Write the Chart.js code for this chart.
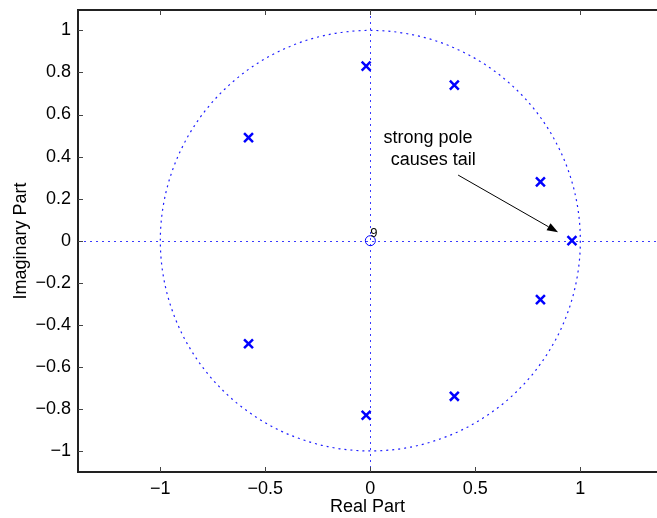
<!DOCTYPE html>
<html><head><meta charset="utf-8">
<script src="https://cdn.jsdelivr.net/npm/chart.js@4/dist/chart.umd.min.js"></script>
<style>html,body{margin:0;padding:0;background:#fff;}#wrap{width:657px;height:518px;}</style>
</head><body><div id="wrap"><canvas id="c" width="657" height="518"></canvas></div>
<script>
// ---- data ----
const poleRe = [-0.58, -0.58, -0.02, -0.02, 0.40, 0.40, 0.81, 0.81, 0.96];
const poleIm = [0.49, -0.49, 0.83, -0.83, 0.74, -0.74, 0.28, -0.28, 0.00];
const zeroRe = [0];
const zeroIm = [0];
const zeroMultiplicity = ['9'];
const xTicks = [-1, -0.5, 0, 0.5, 1];
const yTicks = [-1, -0.8, -0.6, -0.4, -0.2, 0, 0.2, 0.4, 0.6, 0.8, 1];
const xRange = [-1.392, 1.365];
const yRange = [-1.1, 1.097];
const annotationLines = ['strong pole', 'causes tail'];
const annotationAnchors = [[0.275, 0.465], [0.30, 0.36]];   // text baseline centres (data coords)
const arrowFrom = [0.418, 0.312];
const arrowTo = [0.894, 0.040];

const FONT = "'Liberation Sans', Arial, Helvetica, sans-serif";
const fmt = v => (v < 0 ? '\u2212' : '') + String(Math.abs(v));

const poles = poleRe.map((r, i) => ({x: r, y: poleIm[i]}));
const zeros = zeroRe.map((r, i) => ({x: r, y: zeroIm[i]}));

const decor = {
  id: 'decor',
  beforeDatasetsDraw(chart) {
    const {ctx, chartArea: a, scales: {x, y}} = chart;
    ctx.save();
    ctx.beginPath(); ctx.rect(a.left, a.top, a.right - a.left, a.bottom - a.top); ctx.clip();
    ctx.strokeStyle = '#1f1fff'; ctx.lineWidth = 1.2; ctx.setLineDash([2, 4]);
    const cx = x.getPixelForValue(0), cy = y.getPixelForValue(0);
    const rx = x.getPixelForValue(1) - cx, ry = cy - y.getPixelForValue(1);
    ctx.beginPath(); ctx.ellipse(cx, cy, rx, ry, 0, 0, 2 * Math.PI); ctx.stroke();
    ctx.lineWidth = 1; ctx.strokeStyle = '#3a3aff';
    const hy = Math.round(cy) + 0.5, vx = Math.round(cx) + 0.5;
    ctx.beginPath(); ctx.moveTo(a.left, hy); ctx.lineTo(a.right, hy); ctx.stroke();
    ctx.beginPath(); ctx.moveTo(vx, a.top); ctx.lineTo(vx, a.bottom); ctx.stroke();
    ctx.restore();
  },
  afterDraw(chart) {
    const {ctx, chartArea: a, scales: {x, y}} = chart;
    ctx.save();
    // frame
    ctx.strokeStyle = '#222'; ctx.lineWidth = 2; ctx.setLineDash([]);
    ctx.beginPath();
    ctx.moveTo(a.right + 2, a.top); ctx.lineTo(a.left, a.top); ctx.lineTo(a.left, a.bottom); ctx.lineTo(a.right + 2, a.bottom);
    ctx.stroke();
    // inward ticks
    ctx.lineWidth = 1; ctx.strokeStyle = '#444';
    yTicks.forEach(v => {
      const py = Math.round(y.getPixelForValue(v)) + 0.5;
      ctx.beginPath(); ctx.moveTo(a.left, py); ctx.lineTo(a.left + 5, py); ctx.stroke();
    });
    xTicks.forEach(v => {
      const px = Math.round(x.getPixelForValue(v)) + 0.5;
      ctx.beginPath(); ctx.moveTo(px, a.bottom); ctx.lineTo(px, a.bottom - 5); ctx.stroke();
      ctx.beginPath(); ctx.moveTo(px, a.top); ctx.lineTo(px, a.top + 5); ctx.stroke();
    });
    // multiplicity label
    ctx.fillStyle = '#000'; ctx.font = '13px ' + FONT; ctx.textAlign = 'left'; ctx.textBaseline = 'alphabetic';
    zeros.forEach((z, i) => {
      ctx.fillText(zeroMultiplicity[i], x.getPixelForValue(z.x) + 0, y.getPixelForValue(z.y) - 3.5);
    });
    // annotation text
    ctx.font = '18px ' + FONT; ctx.textAlign = 'center';
    annotationLines.forEach((t, i) => {
      ctx.fillText(t, x.getPixelForValue(annotationAnchors[i][0]), y.getPixelForValue(annotationAnchors[i][1]));
    });
    // arrow
    const x0 = x.getPixelForValue(arrowFrom[0]), y0 = y.getPixelForValue(arrowFrom[1]);
    const x1 = x.getPixelForValue(arrowTo[0]), y1 = y.getPixelForValue(arrowTo[1]);
    const ang = Math.atan2(y1 - y0, x1 - x0), L = 11, W = 4;
    ctx.strokeStyle = '#000'; ctx.lineWidth = 1;
    ctx.beginPath(); ctx.moveTo(x0, y0); ctx.lineTo(x1 - L * Math.cos(ang), y1 - L * Math.sin(ang)); ctx.stroke();
    ctx.beginPath();
    ctx.moveTo(x1, y1);
    ctx.lineTo(x1 - L * Math.cos(ang) + W * Math.sin(ang), y1 - L * Math.sin(ang) - W * Math.cos(ang));
    ctx.lineTo(x1 - L * Math.cos(ang) - W * Math.sin(ang), y1 - L * Math.sin(ang) + W * Math.cos(ang));
    ctx.closePath(); ctx.fillStyle = '#000'; ctx.fill();
    ctx.restore();
  }
};

new Chart(document.getElementById('c'), {
  type: 'scatter',
  data: {
    datasets: [
      {label: 'poles', data: poles, pointStyle: 'crossRot', radius: 6.3, borderWidth: 2.5,
       borderColor: '#0000ff', backgroundColor: '#0000ff'},
      {label: 'zeros', data: zeros, pointStyle: 'circle', radius: 5, borderWidth: 1,
       borderColor: '#0000ff', backgroundColor: 'rgba(0,0,0,0)'}
    ]
  },
  options: {
    responsive: false, animation: false, devicePixelRatio: 1,
    layout: {autoPadding: false, padding: {top: 10, left: 0, right: 0, bottom: 0}},
    plugins: {legend: {display: false}, tooltip: {enabled: false}},
    scales: {
      x: {
        type: 'linear', min: xRange[0], max: xRange[1],
        afterBuildTicks: s => { s.ticks = xTicks.map(v => ({value: v})); },
        afterFit: s => { s.height = 46; s.paddingLeft = 0; s.paddingRight = 0; },
        grid: {display: false, drawTicks: false}, border: {display: false},
        ticks: {color: '#000', padding: 6, font: {family: FONT, size: 18}, callback: v => fmt(v), maxRotation: 0},
        title: {display: true, text: 'Real Part', color: '#000', font: {family: FONT, size: 18}, padding: {top: 0, bottom: 0}}
      },
      y: {
        type: 'linear', min: yRange[0], max: yRange[1],
        afterBuildTicks: s => { s.ticks = yTicks.map(v => ({value: v})); },
        afterFit: s => { s.width = 78; s.paddingTop = 0; s.paddingBottom = 0; },
        grid: {display: false, drawTicks: false}, border: {display: false},
        ticks: {color: '#000', padding: 7, font: {family: FONT, size: 18}, callback: v => fmt(v)},
        title: {display: true, text: 'Imaginary Part', color: '#000', font: {family: FONT, size: 18}, padding: {top: 10, bottom: 0}}
      }
    }
  },
  plugins: [decor]
});
</script></body></html>
